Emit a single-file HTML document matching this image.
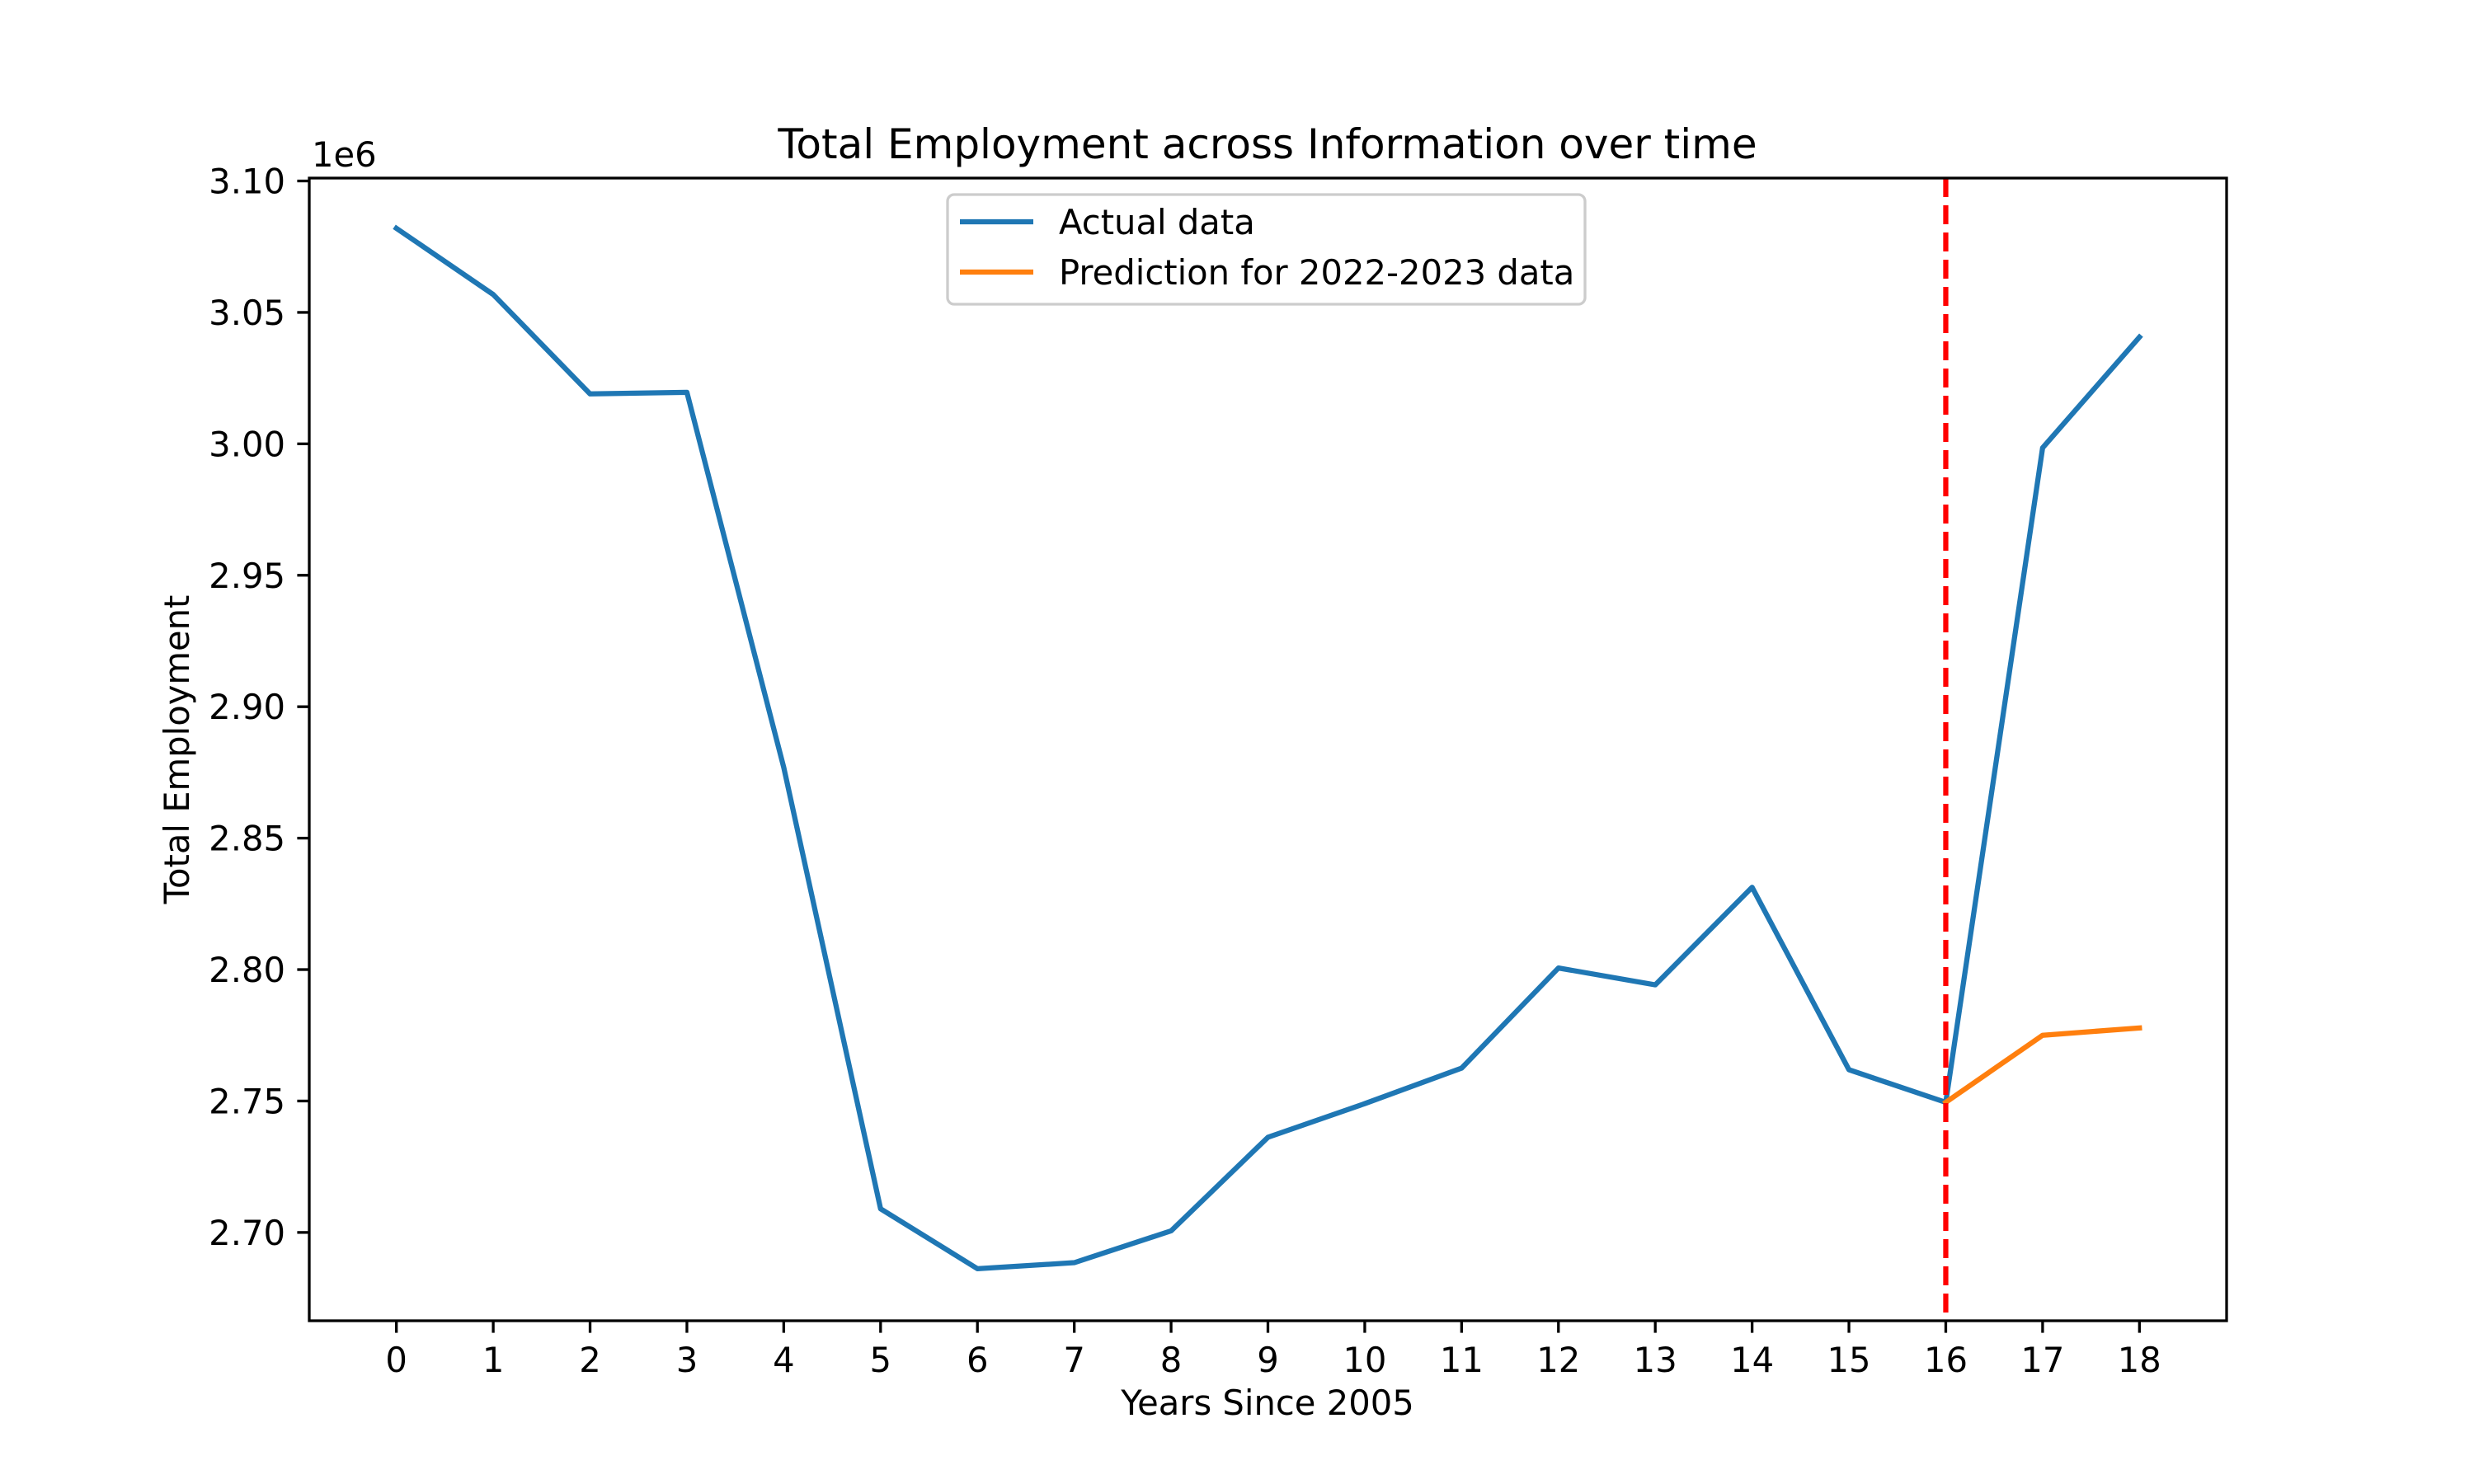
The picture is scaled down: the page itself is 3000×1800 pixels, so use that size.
<!DOCTYPE html>
<html><head><meta charset="utf-8"><style>body{margin:0;background:#fff}svg{display:block}text{font-family:"DejaVu Sans","Liberation Sans",sans-serif;fill:#000}</style></head>
<body>
<svg id="chart" width="3000" height="1800" viewBox="0 0 3000 1800" xmlns="http://www.w3.org/2000/svg">
<rect width="3000" height="1800" fill="#fff"/>
<g id="plot"></g>
</svg>
<script>
const years = [0,1,2,3,4,5,6,7,8,9,10,11,12,13,14,15,16,17,18];
const actual = [3.082,3.0568,3.019,3.0196,2.8769,2.709,2.6862,2.6885,2.7006,2.7362,2.749,2.7625,2.8006,2.7942,2.8313,2.7619,2.7495,2.9985,3.0406];
const predYears = [16,17,18];
const predicted = [2.7495,2.775,2.7778];
const yTicks = [2.70,2.75,2.80,2.85,2.90,2.95,3.00,3.05,3.10];
const splitYear = 16;

const L=375,R=2700,T=216,B=1602;
const xMin=-0.9,xMax=18.9,yMin=2.6664,yMax=3.1011;
const sx=v=>L+(v-xMin)/(xMax-xMin)*(R-L);
const sy=v=>B-(v-yMin)/(yMax-yMin)*(B-T);
const NS='http://www.w3.org/2000/svg';
const g=document.getElementById('plot');
function mk(tag,attrs,parent){const e=document.createElementNS(NS,tag);for(const k in attrs)e.setAttribute(k,attrs[k]);(parent||g).appendChild(e);return e;}

years.forEach(v=>{
  const x=sx(v);
  const t=mk('line',{x1:x,x2:x,y1:B,y2:B+14.6,stroke:'#000','stroke-width':3.3});
  
  
  const lb=mk('text',{x:x,y:B+62,'font-size':41.7,'text-anchor':'middle'});
  lb.textContent=String(v);
  
  
});
yTicks.forEach(v=>{
  const y=sy(v);
  const t=mk('line',{x1:L-14.6,x2:L,y1:y,y2:y,stroke:'#000','stroke-width':3.3});
  
  
  const lb=mk('text',{x:L-29,y:y+15,'font-size':41.7,'text-anchor':'end'});
  lb.textContent=v.toFixed(2);
  
  
});
const pts=(xs,ys)=>xs.map((x,i)=>sx(x)+','+sy(ys[i])).join(' ');
const a=mk('polyline',{points:pts(years,actual),fill:'none',stroke:'#1f77b4','stroke-width':6.25,'stroke-linejoin':'round','stroke-linecap':'square'});


const p=mk('polyline',{points:pts(predYears,predicted),fill:'none',stroke:'#ff7f0e','stroke-width':6.25,'stroke-linejoin':'round','stroke-linecap':'square'});


const vl=mk('line',{x1:sx(splitYear),x2:sx(splitYear),y1:T,y2:B,stroke:'#ff0000','stroke-width':6.25,'stroke-dasharray':'23,10'});


const fr=mk('rect',{x:L,y:T,width:R-L,height:B-T,fill:'none',stroke:'#000','stroke-width':3.3});


const lg=mk('g',{});


mk('rect',{x:1149,y:236,width:773,height:133,rx:8,fill:'#fff','fill-opacity':0.8,stroke:'#ccc','stroke-width':3.3},lg);
mk('line',{x1:1164,x2:1253,y1:269,y2:269,stroke:'#1f77b4','stroke-width':6.25},lg);
mk('line',{x1:1164,x2:1253,y1:330,y2:330,stroke:'#ff7f0e','stroke-width':6.25},lg);
const l1=mk('text',{x:1284,y:284,'font-size':41.7},lg);l1.textContent='Actual data';


const l2=mk('text',{x:1284,y:345,'font-size':41.7},lg);l2.textContent='Prediction for 2022-2023 data';


const ti=mk('text',{x:1537,y:192,'font-size':50,'text-anchor':'middle'});ti.textContent='Total Employment across Information over time';


const xl=mk('text',{x:1537,y:1716,'font-size':41.7,'text-anchor':'middle'});xl.textContent='Years Since 2005';


const yl=mk('text',{x:0,y:0,'font-size':41.7,'text-anchor':'middle',transform:'translate(229,909) rotate(-90)'});yl.textContent='Total Employment';


const off=mk('text',{x:378,y:202,'font-size':41.7});off.textContent='1e6';


</script>
</body></html>
